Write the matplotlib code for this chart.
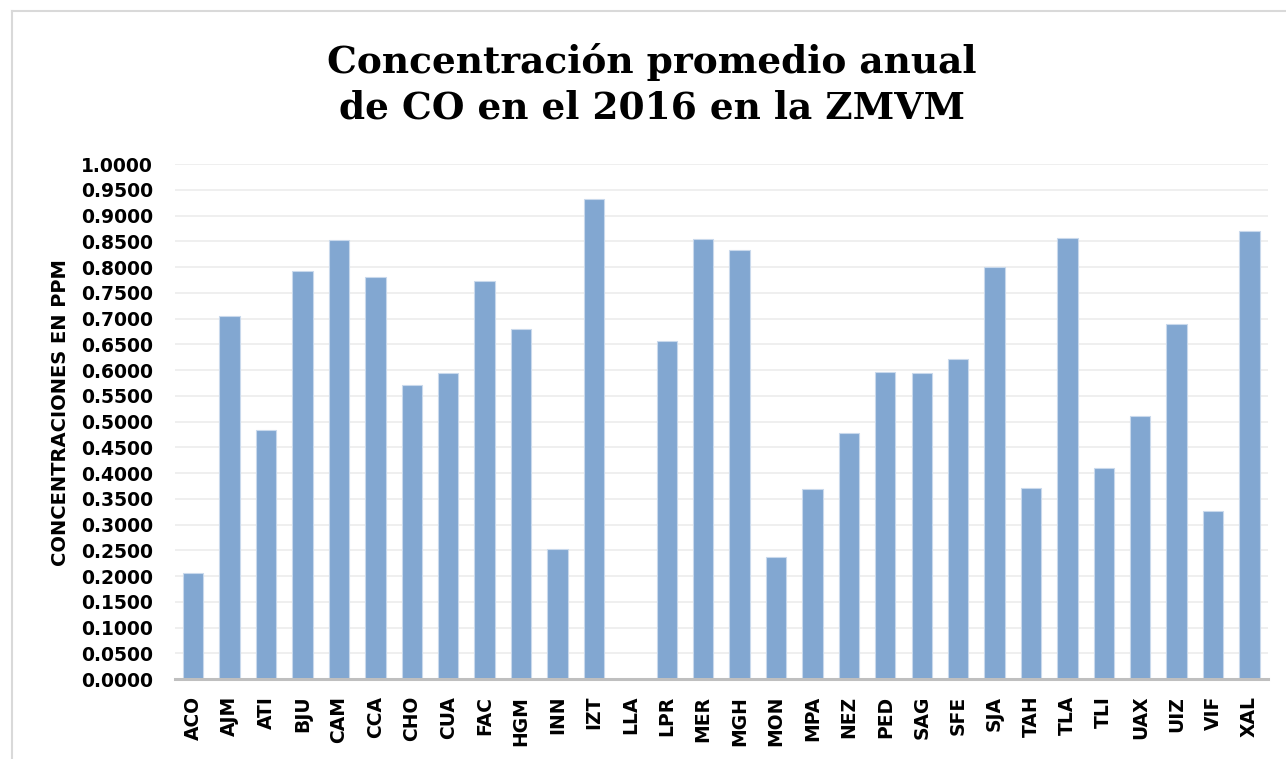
import matplotlib
matplotlib.use("Agg")
import matplotlib.pyplot as plt
from matplotlib.lines import Line2D
import numpy as np

# estaciones de monitoreo y concentracion promedio anual de CO (ppm)
estaciones = ["ACO", "AJM", "ATI", "BJU", "CAM", "CCA", "CHO", "CUA", "FAC", "HGM",
              "INN", "IZT", "LLA", "LPR", "MER", "MGH", "MON", "MPA", "NEZ", "PED",
              "SAG", "SFE", "SJA", "TAH", "TLA", "TLI", "UAX", "UIZ", "VIF", "XAL"]
co_ppm = [0.2055, 0.7055, 0.4830, 0.7920, 0.8525, 0.7810, 0.5700, 0.5935, 0.7720, 0.6800,
          0.2530, 0.9315, np.nan, 0.6570, 0.8550, 0.8325, 0.2375, 0.3695, 0.4770, 0.5965,
          0.5940, 0.6220, 0.8005, 0.3700, 0.8565, 0.4090, 0.5105, 0.6885, 0.3255, 0.8690]
y_ticks = np.arange(0, 1.0001, 0.05)

titulo = "Concentración promedio anual\nde CO en el 2016 en la ZMVM"
eje_y = "CONCENTRACIONES EN PPM"

plt.rcParams["font.family"] = "DejaVu Sans"

fig = plt.figure(figsize=(12.86, 7.59), dpi=100)
ax = fig.add_axes([0.1361, 0.1054, 0.8497, 0.6785])

x = np.arange(len(estaciones))
ax.bar(x, co_ppm, width=0.56, color="#82a7d1", edgecolor="#c9d9ec", linewidth=0.8, zorder=3)

ax.set_xlim(-0.5, len(estaciones) - 0.5)
ax.set_ylim(0, 1.0)
ax.set_yticks(y_ticks)
ax.set_yticklabels([f"{v:.4f}" for v in y_ticks], fontsize=13.5, fontweight="bold")
ax.set_xticks(x)
ax.set_xticklabels(estaciones, rotation=90, fontsize=13.5, fontweight="bold")
ax.tick_params(axis="y", length=0, pad=16)
ax.tick_params(axis="x", length=0, pad=12)

ax.grid(axis="y", color="#efefef", linewidth=1.4, zorder=0)
for s in ["top", "right", "left"]:
    ax.spines[s].set_visible(False)
ax.spines["bottom"].set_color("#bfbfbf")
ax.spines["bottom"].set_linewidth(2.2)
ax.spines["bottom"].set_zorder(4)

ax.set_ylabel(eje_y, fontsize=14, fontweight="bold")
ax.yaxis.set_label_coords(-0.096, 0.517)

fig.text(652 / 1286, 1 - 85 / 759, titulo, ha="center", va="center",
         fontsize=27, fontweight="bold", family="DejaVu Serif", linespacing=1.3)

# borde del area del grafico
fig.add_artist(Line2D([12 / 1286, 12 / 1286], [0, 1 - 11 / 759], transform=fig.transFigure,
                      color="#d9d9d9", linewidth=1.5))
fig.add_artist(Line2D([12 / 1286, 1], [1 - 11 / 759, 1 - 11 / 759], transform=fig.transFigure,
                      color="#d9d9d9", linewidth=1.5))

fig.savefig("out.png", dpi=100)
